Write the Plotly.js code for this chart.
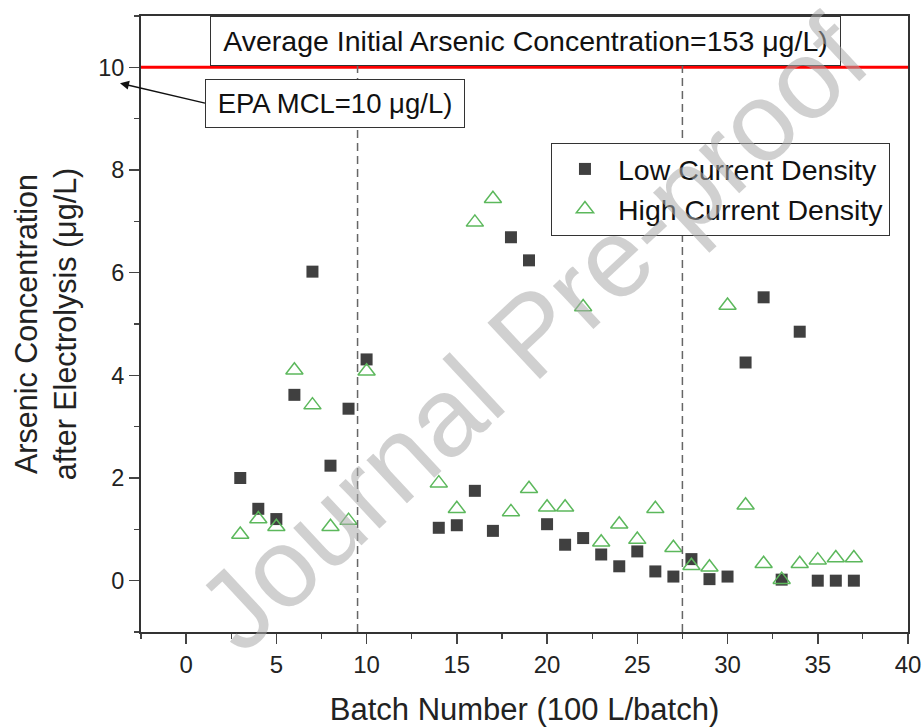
<!DOCTYPE html>
<html>
<head>
<meta charset="utf-8">
<script src="https://cdn.plot.ly/plotly-3.0.1.min.js"></script>
<style>html,body{margin:0;padding:0;background:#fff;}#chart{width:922px;height:728px;}</style>
</head>
<body>
<div id="chart"></div>
<script>
const batches = [3,4,5,6,7,8,9,10,14,15,16,17,18,19,20,21,22,23,24,25,26,27,28,29,30,31,32,33,34,35,36,37];
const lowCurrent = [2.0,1.4,1.2,3.62,6.02,2.24,3.35,4.31,1.03,1.08,1.75,0.97,6.69,6.24,1.1,0.7,0.83,0.51,0.28,0.57,0.18,0.08,0.42,0.03,0.08,4.25,5.52,0.02,4.85,0.0,0.0,0.0];
const highCurrent = [0.9,1.2,1.05,4.1,3.42,1.05,1.17,4.08,1.9,1.4,6.98,7.44,1.34,1.79,1.43,1.43,5.33,0.75,1.1,0.8,1.4,0.64,0.29,0.26,5.36,1.47,0.33,0.02,0.33,0.4,0.44,0.44];
const seriesNames = ['Low Current Density','High Current Density'];
const epaMCL = 10;
const phaseBoundaries = [9.5, 27.5];
const xTickVals = [0,5,10,15,20,25,30,35,40];
const yTickVals = [0,2,4,6,8,10];

const FONT = 'Liberation Sans, Arial, Helvetica, sans-serif';

const traces = [
  {x: batches, y: lowCurrent, name: seriesNames[0], type: 'scatter', mode: 'markers',
   marker: {symbol: 'square', size: 12, color: '#404040'}},
  {x: batches, y: highCurrent, name: seriesNames[1], type: 'scatter', mode: 'markers',
   marker: {symbol: 'triangle-up-open', size: 15, color: '#5cb85c', line: {width: 1.5}}}
];

const shapes = [
  {type: 'line', xref: 'paper', x0: 0, x1: 1, yref: 'y', y0: epaMCL, y1: epaMCL,
   line: {color: '#ff0000', width: 3}}
].concat(phaseBoundaries.map(b => ({
  type: 'line', xref: 'x', x0: b, x1: b, yref: 'paper', y0: 0, y1: 1,
  line: {color: '#666666', width: 1.5, dash: '8px,5px'}
})));

const annotations = [
  {xref: 'x', yref: 'y', x: 1.33, y: 11, xanchor: 'left', yanchor: 'top',
   text: 'Average Initial Arsenic Concentration=153 μg/L)', showarrow: false,
   width: 629, height: 48, borderpad: 0, bordercolor: '#333', borderwidth: 1, bgcolor: '#fff',
   font: {family: FONT, size: 28.5, color: '#111'}},
  {xref: 'paper', yref: 'paper', x: -0.0274, y: 0.891, ax: 85, ay: 20, xanchor: 'left', yanchor: 'middle',
   text: 'EPA MCL=10 μg/L)', showarrow: true, arrowhead: 2, arrowsize: 1.2, arrowwidth: 1.5, arrowcolor: '#111',
   width: 258, height: 47, borderpad: 0, bordercolor: '#333', borderwidth: 1, bgcolor: '#fff',
   font: {family: FONT, size: 27.5, color: '#111'}},
  {xref: 'paper', yref: 'paper', x: 0.51, y: 0.485, showarrow: false, textangle: -43,
   text: 'Journal Pre-proof', font: {family: FONT, size: 112, color: 'rgba(170,170,170,0.55)'}}
];

const layout = {
  width: 922, height: 728,
  margin: {l: 141, r: 14, t: 16, b: 96},
  paper_bgcolor: '#fff', plot_bgcolor: '#fff',
  font: {family: FONT, color: '#222'},
  showlegend: true,
  legend: {x: 0.5345, y: 0.794, xanchor: 'left', yanchor: 'top', bordercolor: '#333', borderwidth: 1,
           bgcolor: '#fff', font: {family: FONT, size: 28.5, color: '#111'}, itemwidth: 56, tracegroupgap: 0},
  xaxis: {range: [-2.5, 40], tickvals: xTickVals, ticks: 'outside', ticklen: 10, tickwidth: 1.5,
          showline: true, linecolor: '#333', linewidth: 2, mirror: true, showgrid: false, zeroline: false,
          tickfont: {size: 24, color: '#222'},
          minor: {dtick: 2.5, tick0: 0, ticks: 'outside', ticklen: 5, tickwidth: 1.2, showgrid: false},
          title: {text: 'Batch Number (100 L/batch)', font: {size: 31, color: '#222'}, standoff: 22}},
  yaxis: {range: [-1, 11], tickvals: yTickVals, ticks: 'outside', ticklen: 10, tickwidth: 1.5,
          showline: true, linecolor: '#333', linewidth: 2, mirror: true, showgrid: false, zeroline: false,
          tickfont: {size: 23.5, color: '#222'},
          minor: {dtick: 1, tick0: 0, ticks: 'outside', ticklen: 5, tickwidth: 1.2, showgrid: false},
          title: {text: 'Arsenic Concentration<br>after Electrolysis (μg/L)', font: {size: 30.5, color: '#222'}, standoff: 12}},
  shapes: shapes,
  annotations: annotations
};

Plotly.newPlot('chart', traces, layout, {displayModeBar: false, staticPlot: true});
</script>
</body>
</html>
